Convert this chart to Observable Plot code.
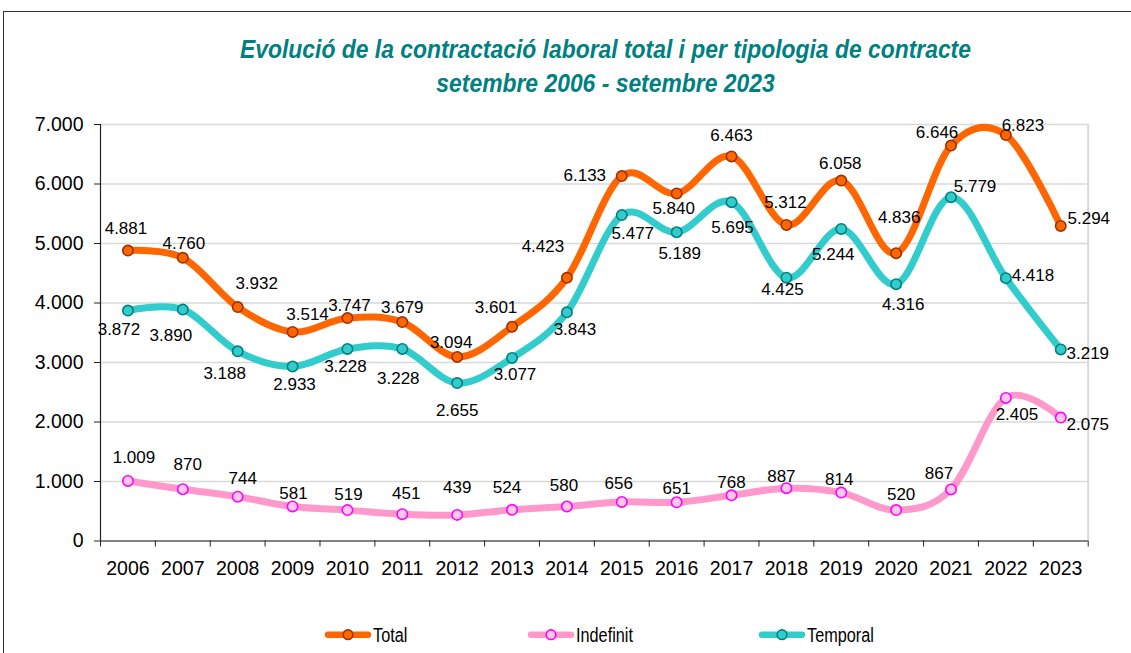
<!DOCTYPE html>
<html><head><meta charset="utf-8">
<script src="https://cdn.jsdelivr.net/npm/d3@7"></script>
<script src="https://cdn.jsdelivr.net/npm/@observablehq/plot@0.6"></script>
<style>
html,body{margin:0;padding:0;background:#fff}
body{width:1131px;height:653px;overflow:hidden;position:relative;font-family:"Liberation Sans",Arial,sans-serif}
#frame{position:absolute;left:3px;top:11px;width:1150px;height:680px;border:1.5px solid #333;box-sizing:border-box}
#title{position:absolute;left:0;width:1211px;top:32px;text-align:center;font-family:"Liberation Sans",Arial,sans-serif;font-weight:bold;font-style:italic;font-size:25px;line-height:34px;color:#008080;transform:scaleX(0.915);transform-origin:605.5px 0}
#chart{position:absolute;left:0;top:100px}
#legend{position:absolute;left:0;top:615px}
</style>
</head><body>
<div id="frame"></div>
<div id="title">Evolució de la contractació laboral total i per tipologia de contracte<br>setembre 2006 - setembre 2023</div>
<div id="chart"></div>
<div id="legend"></div>
<script>
// ---- data ----
const years = ["2006","2007","2008","2009","2010","2011","2012","2013","2014","2015","2016","2017","2018","2019","2020","2021","2022","2023"];
const total = [4881,4760,3932,3514,3747,3679,3094,3601,4423,6133,5840,6463,5312,6058,4836,6646,6823,5294];
const indefinit = [1009,870,744,581,519,451,439,524,580,656,651,768,887,814,520,867,2405,2075];
const temporal = [3872,3890,3188,2933,3228,3228,2655,3077,3843,5477,5189,5695,4425,5244,4316,5779,4418,3219];
const yTicks = [0,1000,2000,3000,4000,5000,6000,7000];
const seriesNames = ["Total","Indefinit","Temporal"];

// ---- label nudges (pixels, layout only) ----
const totalNudge = [[-2,-22],[1,-14],[19,-23],[15,-17],[2,-13],[0,-15],[-6,-14],[-16,-19],[-24,-31],[-37,-1],[-3,15],[0,-21],[-1,-22],[-1,-17],[3,-36],[-14,-13],[17,-9],[28,-7]];
const indefNudge = [[6,-23],[5,-25],[5,-18],[1,-13],[1,-16],[4,-21],[0,-27],[-5,-22],[-3,-21],[-3,-18],[0,-14],[0,-13],[-5,-12],[-2,-13],[5,-16],[-12,-16],[11,17],[27,7]];
const tempNudge = [[-9,19],[-12,26],[-13,22],[2,18],[-2,18],[-4,30],[0,28],[3,17],[8,17],[11,18],[3,21],[1,25],[-4,12],[-8,26],[7,20],[24,-11],[27,-3],[27,4]];

// ---- styles ----
const styles = {
  Total:    {line:"#FF6600", dotFill:"#FF6600", dotStroke:"#993300", nudge: totalNudge},
  Indefinit:{line:"#FF99CC", dotFill:"#FFC8E6", dotStroke:"#FF00FF", nudge: indefNudge},
  Temporal: {line:"#33CCCC", dotFill:"#33CCCC", dotStroke:"#007F7F", nudge: tempNudge}
};
const values = {Total: total, Indefinit: indefinit, Temporal: temporal};

const loc = d3.formatLocale({decimal:",", thousands:".", grouping:[3], currency:["",""]});
const fmt = loc.format(",d");

function rows(name){ return values[name].map((v,i)=>({i, v, name})); }

function nudgedText(data, nudges) {
  return Plot.text(data, {
    x:"i", y:"v", text: d => fmt(d.v), fontSize:17, fill:"#000",
    fontFamily:"Liberation Sans, Arial, sans-serif",
    render(index, scales, vals, dims, ctx, next) {
      const g = next(index, scales, vals, dims, ctx);
      g.querySelectorAll("text").forEach((t, j) => {
        const [dx, dy] = nudges[index[j]];
        const tr = t.getAttribute("transform");
        t.setAttribute("transform", `translate(${dx},${dy})` + (tr ? " " + tr : ""));
      });
      return g;
    }
  });
}

const bounds = d3.range(years.length + 1).map(k => k - 0.5);
const marks = [
  Plot.gridY(yTicks, {stroke:"#d9d9d9", strokeOpacity:1, strokeWidth:1.3}),
  Plot.ruleX([years.length - 0.5], {stroke:"#d9d9d9", strokeWidth:2}),
  Plot.ruleX([-0.5], {stroke:"#222", strokeWidth:1.2}),
  Plot.ruleY([0], {stroke:"#222", strokeWidth:1.2}),
  Plot.axisY(yTicks, {tickSize:6, tickPadding:11, tickFormat: fmt, fontSize:19.5, stroke:"#222", fill:"#000", label:null}),
  Plot.axisX(bounds, {tickSize:6, tickFormat: () => "", stroke:"#222", label:null}),
  Plot.axisX(d3.range(years.length), {tickSize:0, tickPadding:20, tickFormat: i => years[i], fontSize:19.5, fill:"#000", label:null})
];
for (const name of seriesNames) {
  const s = styles[name];
  marks.push(Plot.line(rows(name), {x:"i", y:"v", curve:"cardinal", stroke:s.line, strokeWidth:7, strokeLinecap:"round", strokeLinejoin:"round"}));
}
for (const name of seriesNames) {
  const s = styles[name];
  marks.push(Plot.dot(rows(name), {x:"i", y:"v", r:5.2, fill:s.dotFill, stroke:s.dotStroke, strokeWidth:1.6}));
}
for (const name of seriesNames) {
  marks.push(nudgedText(rows(name), styles[name].nudge));
}

const chart = Plot.plot({
  width:1131, height:480,
  marginTop:24, marginBottom:39.5, marginLeft:100, marginRight:43.3,
  style:{fontFamily:"Liberation Sans, Arial, sans-serif", color:"#000", background:"transparent", overflow:"visible"},
  x:{type:"linear", domain:[-0.5, years.length - 0.5], axis:null},
  y:{type:"linear", domain:[0, 7000], axis:null},
  marks
});
document.getElementById("chart").appendChild(chart);

// ---- legend ----
const legendStart = [325, 528, 759];
const lsvg = d3.select("#legend").append("svg").attr("width", 1131).attr("height", 38);
const cy = 19.7;
seriesNames.forEach((name, k) => {
  const s = styles[name];
  const x0 = legendStart[k];
  lsvg.append("line").attr("x1", x0 + 3).attr("x2", x0 + 43).attr("y1", cy).attr("y2", cy)
    .attr("stroke", s.line).attr("stroke-width", 6.5).attr("stroke-linecap", "round");
  lsvg.append("circle").attr("cx", x0 + 23).attr("cy", cy).attr("r", 4.8)
    .attr("fill", s.dotFill).attr("stroke", s.dotStroke).attr("stroke-width", 1.6);
  lsvg.append("text").attr("transform", `translate(${x0 + 48},${cy}) scale(0.775,1)`)
    .attr("dy", "0.36em").attr("font-family", "Liberation Sans, Arial, sans-serif")
    .attr("font-size", 21).attr("fill", "#000").text(name);
});
</script>
</body></html>
